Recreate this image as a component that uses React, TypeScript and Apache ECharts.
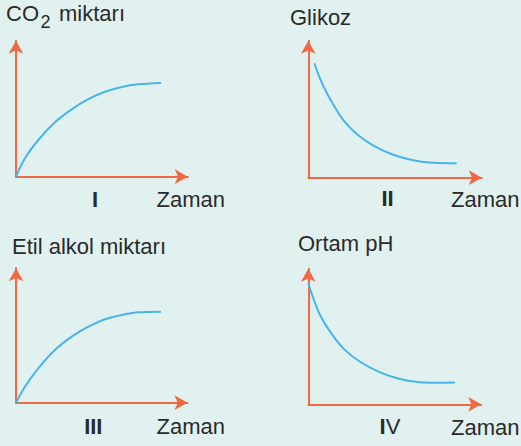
import React, { useEffect, useRef } from "react";
import * as echarts from "echarts";

// Panel I – CO2 miktarı (x: zaman %, y: miktar %)
const co2X = [0, 5.2, 13, 22.7, 32.4, 42.1, 51.8, 61.6, 71.2, 84.4];
const co2Y = [0, 13.5, 27, 40, 49.5, 57, 62.5, 66, 68, 69];
// Panel II – Glikoz
const glikozX = [3.5, 6.7, 10.6, 14.4, 20.2, 27.9, 37.5, 49, 60.5, 72, 85.5];
const glikozY = [83.6, 72.6, 62, 53.5, 42, 32, 23.5, 16.8, 12.8, 10.9, 10.6];
// Panel III – Etil alkol miktarı
const alkolX = [0, 5.2, 13, 22.7, 32.5, 42.2, 51.9, 61.6, 71.3, 84.5];
const alkolY = [0, 11.9, 25.6, 39.2, 49.1, 56.5, 62, 65.2, 67.2, 67.7];
// Panel IV – Ortam pH
const phX = [0, 2.9, 6.8, 12.6, 20.2, 29.9, 41.5, 53, 64.6, 74.3, 84.8];
const phY = [89.3, 78.2, 65.9, 53.6, 41.3, 31.4, 23.6, 18.7, 16.2, 15.9, 16.1];

const xAxisName = "Zaman";
const panelTitles = ["Glikoz", "Etil alkol miktarı", "Ortam pH"];
const romanLabels = ["I", "II", "III", "IV"];

const ORANGE = "#f06844";
const BLUE = "#48b4e9";
const TEXT = "#2a2a2a";
const FONT = "Liberation Sans";

const zip = (xs: number[], ys: number[]) => xs.map((x, i) => [x, ys[i]]);

export default function App() {
  const ref = useRef<HTMLDivElement>(null);
  useEffect(() => {
    if (!ref.current) return;
    const chart = echarts.init(ref.current, undefined, { renderer: "svg" });

    const grids = [
      { left: 16, top: 40.8, width: 171.8, height: 135.9 },
      { left: 308.3, top: 40.8, width: 173.5, height: 136.9 },
      { left: 16, top: 268.2, width: 171.5, height: 134.5 },
      { left: 308.3, top: 268.8, width: 172.9, height: 135.5 },
    ];
    const axisLine = {
      show: true,
      symbol: ["none", "arrow"],
      symbolSize: [11, 13],
      lineStyle: { color: ORANGE, width: 2 },
    };
    const axisCommon = {
      type: "value" as const,
      min: 0,
      max: 100,
      axisLine,
      axisTick: { show: false },
      axisLabel: { show: false },
      splitLine: { show: false },
    };
    const seriesData = [zip(co2X, co2Y), zip(glikozX, glikozY), zip(alkolX, alkolY), zip(phX, phY)];

    const txt = (text: string, x: number, y: number, size = 22, extra: any = {}) => ({
      type: "text",
      x,
      y,
      style: {
        text,
        fill: TEXT,
        fontSize: size,
        fontFamily: FONT,
        align: "left",
        verticalAlign: "middle",
        ...extra,
      },
    });

    const roman = (label: string, x: number, y: number) => {
      if (label === "IV") {
        return {
          type: "text",
          x,
          y,
          style: {
            text: "{b|I}{r|V}",
            align: "center",
            verticalAlign: "middle",
            rich: {
              b: { fontSize: 22, fontFamily: FONT, fontWeight: "bold", fill: TEXT, color: TEXT },
              r: { fontSize: 22, fontFamily: FONT, fill: TEXT, color: TEXT },
            },
          },
        };
      }
      return txt(label, x, y, 22, { fontWeight: "bold", align: "center" });
    };

    chart.setOption({
      animation: false,
      backgroundColor: "#e0f1f0",
      grid: grids.map((g) => ({ ...g, containLabel: false })),
      xAxis: grids.map((_, i) => ({ ...axisCommon, gridIndex: i })),
      yAxis: grids.map((_, i) => ({ ...axisCommon, gridIndex: i })),
      series: seriesData.map((d, i) => ({
        type: "line",
        xAxisIndex: i,
        yAxisIndex: i,
        data: d,
        smooth: 0.3,
        showSymbol: false,
        symbol: "none",
        lineStyle: { color: BLUE, width: 2 },
      })),
      graphic: [
        txt("CO", 6, 13.3),
        txt("2", 40.5, 22, 18),
        txt("miktarı", 59, 13.3),
        txt(panelTitles[0], 290, 17),
        txt(panelTitles[1], 12, 246.6),
        txt(panelTitles[2], 298, 243.8),
        txt(xAxisName, 156.5, 199.3),
        txt(xAxisName, 451, 199),
        txt(xAxisName, 156.5, 426.6),
        txt(xAxisName, 451, 427),
        roman(romanLabels[0], 95, 199.3),
        roman(romanLabels[1], 387.5, 198.8),
        roman(romanLabels[2], 93.3, 426.6),
        roman(romanLabels[3], 390, 426.8),
      ],
    });
    return () => chart.dispose();
  }, []);
  return (
    <div
      ref={ref}
      style={{ position: "absolute", left: 0, top: 0, width: 521, height: 446, background: "#e0f1f0" }}
    />
  );
}
